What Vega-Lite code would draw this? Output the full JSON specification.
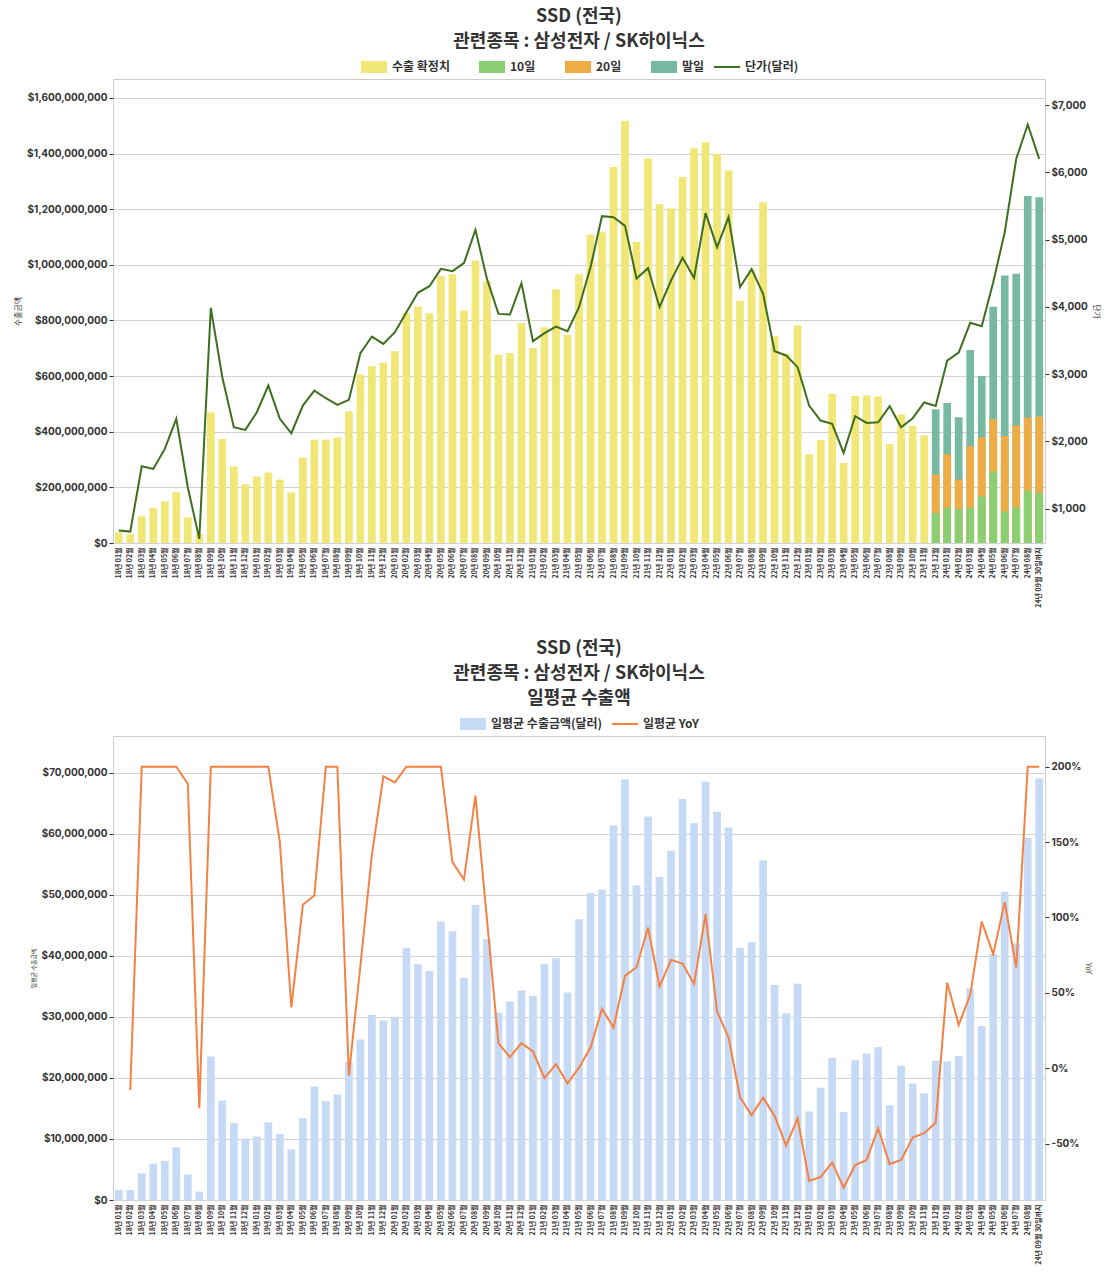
{
  "$schema": "https://vega.github.io/schema/vega-lite/v6.json",
  "padding": {"left": 14, "top": 7, "right": 2, "bottom": 2},
  "config": {
    "font": "Noto Sans CJK KR",
    "view": {"stroke": "#cccccc"},
    "title": {"fontSize": 18, "fontWeight": "bold", "color": "#333333", "anchor": "middle", "lineHeight": 25, "offset": 2},
    "axis": {"labelFont": "Inter", "labelFontWeight": "bold", "labelColor": "#333333", "labelFontSize": 10, "titleFontWeight": "normal", "titleFontSize": 8, "titleColor": "#333333", "domain": false, "tickColor": "#333333", "tickSize": 4, "gridColor": "#d3d3d3"},
    "axisX": {"labelFont": "Noto Sans CJK KR", "labelAngle": -90, "labelFontSize": 7, "ticks": false, "grid": false, "title": null, "labelPadding": 4},
    "legend": {"orient": "top", "direction": "horizontal", "offset": 6, "labelFontSize": 12, "labelFontWeight": "bold", "labelColor": "#333333", "columnPadding": 28, "title": null, "layout": {"top": {"anchor": "middle"}}},
    "concat": {"spacing": 31}
  },
  "datasets": {
    "ssd": [
      {"m": "18년 01월", "수출 확정치": 38000000, "price": 673, "avg": 1640000, "yoy": null},
      {"m": "18년 02월", "수출 확정치": 32000000, "price": 658, "avg": 1640000, "yoy": -14.4},
      {"m": "18년 03월", "수출 확정치": 96000000, "price": 1630, "avg": 4370000, "yoy": 200},
      {"m": "18년 04월", "수출 확정치": 125000000, "price": 1590, "avg": 5950000, "yoy": 200},
      {"m": "18년 05월", "수출 확정치": 149000000, "price": 1887, "avg": 6390000, "yoy": 200},
      {"m": "18년 06월", "수출 확정치": 182000000, "price": 2334, "avg": 8630000, "yoy": 200},
      {"m": "18년 07월", "수출 확정치": 92000000, "price": 1317, "avg": 4200000, "yoy": 188.7},
      {"m": "18년 08월", "수출 확정치": 32000000, "price": 549, "avg": 1370000, "yoy": -26.5},
      {"m": "18년 09월", "수출 확정치": 470000000, "price": 3985, "avg": 23500000, "yoy": 200},
      {"m": "18년 10월", "수출 확정치": 374000000, "price": 2953, "avg": 16300000, "yoy": 200},
      {"m": "18년 11월", "수출 확정치": 275000000, "price": 2210, "avg": 12600000, "yoy": 200},
      {"m": "18년 12월", "수출 확정치": 211000000, "price": 2170, "avg": 10050000, "yoy": 200},
      {"m": "19년 01월", "수출 확정치": 239000000, "price": 2433, "avg": 10400000, "yoy": 200},
      {"m": "19년 02월", "수출 확정치": 253000000, "price": 2829, "avg": 12700000, "yoy": 200},
      {"m": "19년 03월", "수출 확정치": 228000000, "price": 2334, "avg": 10800000, "yoy": 150},
      {"m": "19년 04월", "수출 확정치": 182000000, "price": 2120, "avg": 8300000, "yoy": 40.3},
      {"m": "19년 05월", "수출 확정치": 307000000, "price": 2532, "avg": 13400000, "yoy": 108.4},
      {"m": "19년 06월", "수출 확정치": 372000000, "price": 2755, "avg": 18600000, "yoy": 114.6},
      {"m": "19년 07월", "수출 확정치": 372000000, "price": 2641, "avg": 16200000, "yoy": 200},
      {"m": "19년 08월", "수출 확정치": 379000000, "price": 2542, "avg": 17300000, "yoy": 200},
      {"m": "19년 09월", "수출 확정치": 474000000, "price": 2616, "avg": 22600000, "yoy": -4.9},
      {"m": "19년 10월", "수출 확정치": 607000000, "price": 3310, "avg": 26300000, "yoy": 68},
      {"m": "19년 11월", "수출 확정치": 635000000, "price": 3558, "avg": 30300000, "yoy": 141.6},
      {"m": "19년 12월", "수출 확정치": 648000000, "price": 3449, "avg": 29400000, "yoy": 193.6},
      {"m": "20년 01월", "수출 확정치": 689000000, "price": 3623, "avg": 30000000, "yoy": 189.6},
      {"m": "20년 02월", "수출 확정치": 827000000, "price": 3920, "avg": 41300000, "yoy": 200},
      {"m": "20년 03월", "수출 확정치": 850000000, "price": 4208, "avg": 38600000, "yoy": 200},
      {"m": "20년 04월", "수출 확정치": 826000000, "price": 4307, "avg": 37500000, "yoy": 200},
      {"m": "20년 05월", "수출 확정치": 959000000, "price": 4565, "avg": 45600000, "yoy": 200},
      {"m": "20년 06월", "수출 확정치": 966000000, "price": 4530, "avg": 44000000, "yoy": 136.7},
      {"m": "20년 07월", "수출 확정치": 836000000, "price": 4649, "avg": 36400000, "yoy": 125.2},
      {"m": "20년 08월", "수출 확정치": 1015000000, "price": 5145, "avg": 48300000, "yoy": 180.8},
      {"m": "20년 09월", "수출 확정치": 941000000, "price": 4416, "avg": 42700000, "yoy": 98.7},
      {"m": "20년 10월", "수출 확정치": 677000000, "price": 3895, "avg": 30700000, "yoy": 16.6},
      {"m": "20년 11월", "수출 확정치": 683000000, "price": 3885, "avg": 32500000, "yoy": 7.3},
      {"m": "20년 12월", "수출 확정치": 791000000, "price": 4352, "avg": 34300000, "yoy": 16.6},
      {"m": "21년 01월", "수출 확정치": 701000000, "price": 3489, "avg": 33400000, "yoy": 11.1},
      {"m": "21년 02월", "수출 확정치": 776000000, "price": 3608, "avg": 38700000, "yoy": -6.6},
      {"m": "21년 03월", "수출 확정치": 912000000, "price": 3707, "avg": 39600000, "yoy": 2.7},
      {"m": "21년 04월", "수출 확정치": 749000000, "price": 3638, "avg": 34000000, "yoy": -10},
      {"m": "21년 05월", "수출 확정치": 966000000, "price": 3995, "avg": 46000000, "yoy": 0.4},
      {"m": "21년 06월", "수출 확정치": 1108000000, "price": 4589, "avg": 50300000, "yoy": 13.7},
      {"m": "21년 07월", "수출 확정치": 1117000000, "price": 5348, "avg": 50800000, "yoy": 39.4},
      {"m": "21년 08월", "수출 확정치": 1352000000, "price": 5333, "avg": 61400000, "yoy": 27},
      {"m": "21년 09월", "수출 확정치": 1517000000, "price": 5204, "avg": 68900000, "yoy": 61.3},
      {"m": "21년 10월", "수출 확정치": 1082000000, "price": 4421, "avg": 51500000, "yoy": 67},
      {"m": "21년 11월", "수출 확정치": 1382000000, "price": 4575, "avg": 62800000, "yoy": 93.4},
      {"m": "21년 12월", "수출 확정치": 1218000000, "price": 3995, "avg": 52900000, "yoy": 54.2},
      {"m": "22년 01월", "수출 확정치": 1203000000, "price": 4391, "avg": 57200000, "yoy": 71.9},
      {"m": "22년 02월", "수출 확정치": 1316000000, "price": 4728, "avg": 65700000, "yoy": 69.5},
      {"m": "22년 03월", "수출 확정치": 1419000000, "price": 4431, "avg": 61700000, "yoy": 55.8},
      {"m": "22년 04월", "수출 확정치": 1441000000, "price": 5393, "avg": 68500000, "yoy": 102.2},
      {"m": "22년 05월", "수출 확정치": 1398000000, "price": 4887, "avg": 63600000, "yoy": 37.6},
      {"m": "22년 06월", "수출 확정치": 1339000000, "price": 5335, "avg": 61000000, "yoy": 20.4},
      {"m": "22년 07월", "수출 확정치": 870000000, "price": 4293, "avg": 41300000, "yoy": -19.5},
      {"m": "22년 08월", "수출 확정치": 980000000, "price": 4560, "avg": 42200000, "yoy": -31.2},
      {"m": "22년 09월", "수출 확정치": 1225000000, "price": 4194, "avg": 55600000, "yoy": -19.5},
      {"m": "22년 10월", "수출 확정치": 743000000, "price": 3341, "avg": 35200000, "yoy": -31.6},
      {"m": "22년 11월", "수출 확정치": 680000000, "price": 3277, "avg": 30600000, "yoy": -51.3},
      {"m": "22년 12월", "수출 확정치": 782000000, "price": 3103, "avg": 35400000, "yoy": -33.2},
      {"m": "23년 01월", "수출 확정치": 319000000, "price": 2532, "avg": 14500000, "yoy": -74.8},
      {"m": "23년 02월", "수출 확정치": 370000000, "price": 2309, "avg": 18400000, "yoy": -72.1},
      {"m": "23년 03월", "수출 확정치": 536000000, "price": 2259, "avg": 23300000, "yoy": -62.6},
      {"m": "23년 04월", "수출 확정치": 288000000, "price": 1828, "avg": 14400000, "yoy": -79.2},
      {"m": "23년 05월", "수출 확정치": 528000000, "price": 2373, "avg": 22900000, "yoy": -64.2},
      {"m": "23년 06월", "수출 확정치": 530000000, "price": 2274, "avg": 24000000, "yoy": -60.8},
      {"m": "23년 07월", "수출 확정치": 527000000, "price": 2284, "avg": 25000000, "yoy": -39.8},
      {"m": "23년 08월", "수출 확정치": 356000000, "price": 2522, "avg": 15500000, "yoy": -63.7},
      {"m": "23년 09월", "수출 확정치": 462000000, "price": 2210, "avg": 22000000, "yoy": -60.8},
      {"m": "23년 10월", "수출 확정치": 421000000, "price": 2344, "avg": 19100000, "yoy": -46},
      {"m": "23년 11월", "수출 확정치": 386000000, "price": 2577, "avg": 17500000, "yoy": -43.1},
      {"m": "23년 12월", "10일": 108000000, "20일": 246000000, "말일": 481000000, "price": 2527, "avg": 22800000, "yoy": -36.1},
      {"m": "24년 01월", "10일": 127000000, "20일": 319000000, "말일": 503000000, "price": 3201, "avg": 22700000, "yoy": 56.9},
      {"m": "24년 02월", "10일": 121000000, "20일": 228000000, "말일": 452000000, "price": 3320, "avg": 23600000, "yoy": 28.8},
      {"m": "24년 03월", "10일": 127000000, "20일": 348000000, "말일": 694000000, "price": 3762, "avg": 34700000, "yoy": 48.7},
      {"m": "24년 04월", "10일": 167000000, "20일": 380000000, "말일": 600000000, "price": 3712, "avg": 28500000, "yoy": 97.3},
      {"m": "24년 05월", "10일": 256000000, "20일": 445000000, "말일": 849000000, "price": 4366, "avg": 40300000, "yoy": 75.7},
      {"m": "24년 06월", "10일": 114000000, "20일": 385000000, "말일": 962000000, "price": 5110, "avg": 50500000, "yoy": 110.2},
      {"m": "24년 07월", "10일": 128000000, "20일": 422000000, "말일": 968000000, "price": 6201, "avg": 42000000, "yoy": 66.8},
      {"m": "24년 08월", "10일": 188000000, "20일": 450000000, "말일": 1247000000, "price": 6711, "avg": 59300000, "yoy": 200},
      {"m": "24년 09월 30일까지", "10일": 181000000, "20일": 455000000, "말일": 1243000000, "price": 6201, "avg": 69100000, "yoy": 200}
    ]
  },
  "resolve": {"scale": {"fill": "independent", "stroke": "independent", "x": "independent"}, "legend": {"fill": "independent", "stroke": "independent"}},
  "vconcat": [
    {
      "title": {"text": ["SSD (전국)", "관련종목 : 삼성전자 / SK하이닉스"]},
      "width": 932,
      "height": 464,
      "data": {"name": "ssd"},
      "encoding": {
        "x": {"field": "m", "type": "nominal", "sort": null, "scale": {"paddingInner": 0.33, "paddingOuter": 0.165}}
      },
      "layer": [
        {
          "transform": [{"fold": ["수출 확정치", "말일", "20일", "10일"], "as": ["key", "value"]}],
          "mark": {"type": "bar"},
          "encoding": {
            "y": {"field": "value", "type": "quantitative", "stack": null,
              "scale": {"domain": [0, 1668000000], "nice": false},
              "axis": {"title": "수출금액", "format": "$,.0f", "values": [0, 200000000, 400000000, 600000000, 800000000, 1000000000, 1200000000, 1400000000, 1600000000]}},
            "fill": {"field": "key", "type": "nominal",
              "scale": {"domain": ["수출 확정치", "10일", "20일", "말일"], "range": ["#f0e777", "#8ccf72", "#eeac45", "#78b9a2"]},
              "legend": {"symbolType": "M-1,-0.46H1V0.46H-1Z", "symbolSize": 676, "title": null}}
          }
        },
        {
          "mark": {"type": "line", "strokeWidth": 2},
          "encoding": {
            "y": {"field": "price", "type": "quantitative",
              "scale": {"domain": [488, 7388], "nice": false, "zero": false},
              "axis": {"title": "단가", "orient": "right", "grid": false, "format": "$,.0f", "values": [1000, 2000, 3000, 4000, 5000, 6000, 7000]}},
            "stroke": {"datum": "단가(달러)", "scale": {"range": ["#3f6e1e"]},
              "legend": {"symbolType": "stroke", "symbolSize": 676, "symbolStrokeWidth": 2, "title": null}}
          }
        }
      ],
      "resolve": {"scale": {"y": "independent"}}
    },
    {
      "title": {"text": ["SSD (전국)", "관련종목 : 삼성전자 / SK하이닉스", "일평균 수출액"]},
      "width": 932,
      "height": 464,
      "data": {"name": "ssd"},
      "encoding": {
        "x": {"field": "m", "type": "nominal", "sort": null, "scale": {"paddingInner": 0.33, "paddingOuter": 0.165}}
      },
      "layer": [
        {
          "mark": {"type": "bar"},
          "encoding": {
            "y": {"field": "avg", "type": "quantitative",
              "scale": {"domain": [0, 76000000], "nice": false},
              "axis": {"title": "일평균 수출금액", "titleFontSize": 6, "format": "$,.0f", "values": [0, 10000000, 20000000, 30000000, 40000000, 50000000, 60000000, 70000000]}},
            "fill": {"datum": "일평균 수출금액(달러)", "scale": {"range": ["#c6daf6"]},
              "legend": {"symbolType": "M-1,-0.46H1V0.46H-1Z", "symbolSize": 676, "title": null}}
          }
        },
        {
          "mark": {"type": "line", "strokeWidth": 2},
          "encoding": {
            "y": {"field": "yoy", "type": "quantitative",
              "scale": {"domain": [-87.4, 220.4], "nice": false, "zero": false},
              "axis": {"title": "YoY", "titleFontSize": 7, "orient": "right", "grid": false, "values": [-50, 0, 50, 100, 150, 200], "labelExpr": "datum.value + '%'"}},
            "stroke": {"datum": "일평균 YoY", "scale": {"range": ["#f58142"]},
              "legend": {"symbolType": "stroke", "symbolSize": 676, "symbolStrokeWidth": 2, "title": null}}
          }
        }
      ],
      "resolve": {"scale": {"y": "independent"}}
    }
  ]
}
